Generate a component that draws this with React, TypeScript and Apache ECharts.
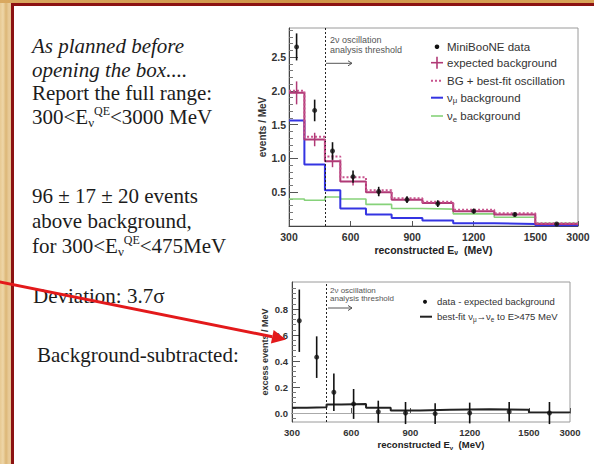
import React, { useEffect, useRef } from 'react';
import * as echarts from 'echarts';

// ---- data (MeV bins) ----
const binEdges = [300, 375, 475, 550, 675, 800, 950, 1100, 1300, 1500, 3000];
const binCenters = [337, 425, 512, 612, 737, 875, 1025, 1200, 1400, 2250];

const dataValues = [2.65, 1.71, 1.11, 0.73, 0.51, 0.39, 0.33, 0.22, 0.17, 0.03];
const dataErrors = [0.2, 0.16, 0.13, 0.09, 0.07, 0.05, 0.05, 0.035, 0.03, 0.015];
const expectedBg = [1.97, 1.28, 0.96, 0.66, 0.5, 0.39, 0.34, 0.22, 0.17, 0.03];
const expectedBgErr = [0.17, 0.1, 0.09, 0.06, 0.05, 0.04, 0.03, 0.03, 0.02, 0.01];
const bgPlusFit = [2.0, 1.32, 1.03, 0.72, 0.53, 0.41, 0.36, 0.24, 0.19, 0.04];
const numuBg = [1.56, 0.91, 0.53, 0.26, 0.17, 0.12, 0.08, 0.04, 0.03, 0.01];
const nueBg = [0.4, 0.38, 0.43, 0.4, 0.32, 0.26, 0.25, 0.18, 0.13, 0.04];

const excessValues = [0.71, 0.43, 0.16, 0.07, 0.01, 0.0, -0.005, 0.0, 0.01, 0.0];
const excessErrors = [0.24, 0.16, 0.145, 0.115, 0.085, 0.085, 0.08, 0.08, 0.075, 0.085];
const bestFit = [0.04, 0.045, 0.065, 0.07, 0.04, 0.02, 0.025, 0.03, 0.025, 0.005];

const xTickValues = [300, 600, 900, 1200, 1500, 3000];
const yTicksTop = [0.5, 1.0, 1.5, 2.0, 2.5];
const yTicksBottom = [0.0, 0.2, 0.4, 0.6, 0.8];
const threshold = 475;

// ---- styling ----
const SANS = '"Liberation Sans", Arial, Helvetica, sans-serif';
const SERIF = '"Liberation Serif", "Times New Roman", serif';
const K = 0.1387; // compression of the 1500-3000 MeV bin on the axis
const tx = (e: number) => (e <= 1500 ? e : 1500 + (e - 1500) * K);
const XMIN = 300;
const XMAX = tx(3000);

const fmtX = (v: number) => {
  const i = xTickValues.findIndex((e) => Math.abs(tx(e) - v) < 1e-6);
  return i >= 0 ? String(xTickValues[i]) : '';
};

function minorTicks(lo: number, hi: number, step: number, major: number) {
  const out: number[] = [];
  const n = Math.round((hi - lo) / step);
  for (let i = 0; i <= n; i++) {
    const v = +(lo + i * step).toFixed(4);
    if (Math.abs(v / major - Math.round(v / major)) > 1e-6) out.push(v);
  }
  return out;
}

const stepData = (vals: number[]) =>
  binEdges.map((e, i) => [tx(e), vals[Math.min(i, vals.length - 1)]]);

function errBar(color: string, width: number) {
  return (params: any, api: any) => {
    const x = api.value(0);
    const y = api.value(1);
    const e = api.value(2);
    const p1 = api.coord([x, y + e]);
    const p2 = api.coord([x, y - e]);
    return {
      type: 'line',
      shape: { x1: p1[0], y1: p1[1], x2: p2[0], y2: p2[1] },
      style: { stroke: color, lineWidth: width },
    };
  };
}

function buildOption(): any {
  const lblTop = { fontFamily: SANS, fontWeight: 'bold', fontSize: 10.5, color: '#333' };
  const lblBot = { fontFamily: SANS, fontWeight: 'bold', fontSize: 9.5, color: '#333' };
  const xName = 'reconstructed E{s|ν}  (MeV)';
  const xNameStyle = (fs: number) => ({
    fontFamily: SANS,
    fontWeight: 'bold',
    fontSize: fs,
    color: '#222',
    lineHeight: fs + 3,
    rich: {
      s: { fontFamily: SANS, fontWeight: 'bold', fontSize: fs * 0.65, lineHeight: 5, verticalAlign: 'bottom', color: '#222' },
    },
  });

  const makeX = (grid: number, lbl: any, nameGap: number, nfs: number) => ({
    type: 'value',
    gridIndex: grid,
    min: XMIN,
    max: XMAX,
    splitLine: { show: false },
    axisLine: { show: true, lineStyle: { color: '#444', width: 1 } },
    axisTick: { show: true, inside: true, length: 5, customValues: xTickValues.map(tx), lineStyle: { color: '#555' } },
    axisLabel: { customValues: xTickValues.map(tx), formatter: fmtX, margin: 5, ...lbl },
    name: xName,
    nameLocation: 'middle',
    nameGap,
    nameTextStyle: xNameStyle(nfs),
  });

  const minorTop = minorTicks(0, 2.9, 0.1, 0.5);
  const minorBot = minorTicks(-0.04, 1.0, 0.04, 0.2);

  const legendText = (text: string, x: number, y: number, fs: number, rich?: any) => ({
    type: 'text',
    x,
    y,
    z: 10,
    style: {
      text,
      fontFamily: SANS,
      fontSize: fs,
      fill: '#333',
      align: 'left',
      verticalAlign: 'middle',
      lineHeight: fs + 3,
      rich,
    },
  });
  const subRich = (fs: number) => ({
    s: { fontFamily: SANS, fontSize: fs * 0.68, lineHeight: 5, verticalAlign: 'bottom', fill: '#333' },
  });
  const hline = (x1: number, x2: number, y: number, color: string, w: number, dash?: number[]) => ({
    type: 'line',
    z: 10,
    shape: { x1, y1: y, x2, y2: y },
    style: { stroke: color, lineWidth: w, lineDash: dash },
  });

  const slide = (text: string, x: number, y: number, italic = false) => ({
    type: 'text',
    x,
    y,
    z: 20,
    style: {
      text,
      fontFamily: SERIF,
      fontSize: 21,
      fontStyle: italic ? 'italic' : 'normal',
      fill: '#1c1c1c',
      align: 'left',
      verticalAlign: 'middle',
      lineHeight: 24,
      rich: {
        sub: { fontFamily: SERIF, fontSize: 13, lineHeight: 8, verticalAlign: 'bottom', fill: '#1c1c1c' },
        sup: { fontFamily: SERIF, fontSize: 12, lineHeight: 12, verticalAlign: 'top', fill: '#1c1c1c' },
      },
    },
  });

  const thresholdNote = (x: number, y1: number, y2: number, ya: number, fs: number, ax1: number, ax2: number) => [
    { type: 'text', x, y: y1, z: 10, style: { text: '2ν oscillation', fontFamily: SANS, fontSize: fs, fill: '#555', verticalAlign: 'middle' } },
    { type: 'text', x, y: y2, z: 10, style: { text: 'analysis threshold', fontFamily: SANS, fontSize: fs, fill: '#555', verticalAlign: 'middle' } },
    hline(ax1, ax2, ya, '#555', 1),
    {
      type: 'polyline',
      z: 10,
      shape: { points: [[ax2 - 4, ya - 2.5], [ax2, ya], [ax2 - 4, ya + 2.5]] },
      style: { stroke: '#555', lineWidth: 1, fill: 'none' },
    },
  ];

  // red arrow geometry
  const ax0 = -2, ay0 = 281.6, axT = 286, ayT = 339.5;
  const dx = axT - ax0, dy = ayT - ay0;
  const L = Math.hypot(dx, dy);
  const ux = dx / L, uy = dy / L;
  const hl = 14, hw = 7;
  const bx = axT - hl * ux, by = ayT - hl * uy;

  return {
    animation: false,
    backgroundColor: 'transparent',
    grid: [
      { left: 289, top: 28, width: 289, height: 198, show: true, borderColor: '#9a9a9a', borderWidth: 1, backgroundColor: 'transparent' },
      { left: 292, top: 282, width: 278, height: 140, show: true, borderColor: '#9a9a9a', borderWidth: 1, backgroundColor: 'transparent' },
    ],
    xAxis: [makeX(0, lblTop, 16, 10.5), makeX(1, lblBot, 14, 9.5)],
    yAxis: [
      {
        type: 'value', gridIndex: 0, position: 'left', min: 0, max: 2.93,
        splitLine: { show: false },
        axisLine: { show: true, lineStyle: { color: '#444' } },
        axisTick: { show: true, inside: true, length: 9, customValues: yTicksTop, lineStyle: { color: '#555' } },
        axisLabel: { customValues: yTicksTop, formatter: (v: number) => v.toFixed(1), margin: 3, ...lblTop },
        name: 'events / MeV', nameLocation: 'middle', nameGap: 21,
        nameTextStyle: { fontFamily: SANS, fontWeight: 'bold', fontSize: 10, color: '#333' },
      },
      {
        type: 'value', gridIndex: 0, position: 'left', min: 0, max: 2.93,
        splitLine: { show: false }, axisLine: { show: false }, axisLabel: { show: false },
        axisTick: { show: true, inside: true, length: 4, customValues: minorTop, lineStyle: { color: '#777' } },
      },
      {
        type: 'value', gridIndex: 1, position: 'left', min: -0.069, max: 1.008,
        splitLine: { show: false },
        axisLine: { show: true, lineStyle: { color: '#444' } },
        axisTick: { show: true, inside: true, length: 8, customValues: yTicksBottom, lineStyle: { color: '#555' } },
        axisLabel: { customValues: yTicksBottom, formatter: (v: number) => v.toFixed(1), margin: 4, ...lblBot },
        name: 'excess events / MeV', nameLocation: 'middle', nameGap: 23,
        nameTextStyle: { fontFamily: SANS, fontWeight: 'bold', fontSize: 9, color: '#333' },
      },
      {
        type: 'value', gridIndex: 1, position: 'left', min: -0.069, max: 1.008,
        splitLine: { show: false }, axisLine: { show: false }, axisLabel: { show: false },
        axisTick: { show: true, inside: true, length: 4, customValues: minorBot, lineStyle: { color: '#777' } },
      },
    ],
    series: [
      {
        name: 'νe background', type: 'line', xAxisIndex: 0, yAxisIndex: 0, step: 'end', symbol: 'none',
        data: stepData(nueBg), lineStyle: { color: '#86d27a', width: 1.6 }, z: 2,
      },
      {
        name: 'νμ background', type: 'line', xAxisIndex: 0, yAxisIndex: 0, step: 'end', symbol: 'none',
        data: stepData(numuBg), lineStyle: { color: '#3434e2', width: 2 }, z: 3,
      },
      {
        name: 'expected background', type: 'line', xAxisIndex: 0, yAxisIndex: 0, step: 'end', symbol: 'none',
        data: stepData(expectedBg), lineStyle: { color: '#b03a76', width: 2 }, z: 4,
        markLine: {
          silent: true, symbol: ['none', 'none'], label: { show: false },
          lineStyle: { color: '#222', type: [2, 2], width: 1 },
          data: [{ xAxis: tx(threshold) }],
        },
      },
      {
        name: 'BG + best-fit oscillation', type: 'line', xAxisIndex: 0, yAxisIndex: 0, step: 'end', symbol: 'none',
        data: stepData(bgPlusFit), lineStyle: { color: '#c8548e', width: 2, type: [2, 2] }, z: 5,
      },
      {
        name: 'expected background errors', type: 'custom', xAxisIndex: 0, yAxisIndex: 0, z: 6,
        data: binCenters.map((c, i) => [tx(c), expectedBg[i], expectedBgErr[i]]),
        encode: { x: 0, y: 1 }, renderItem: errBar('#b03a76', 1.5),
      },
      {
        name: 'MiniBooNE data errors', type: 'custom', xAxisIndex: 0, yAxisIndex: 0, z: 7,
        data: binCenters.map((c, i) => [tx(c), dataValues[i], dataErrors[i]]),
        encode: { x: 0, y: 1 }, renderItem: errBar('#111', 1.6),
      },
      {
        name: 'MiniBooNE data', type: 'scatter', xAxisIndex: 0, yAxisIndex: 0, z: 8,
        symbol: 'circle', symbolSize: 5, itemStyle: { color: '#111' },
        data: binCenters.map((c, i) => [tx(c), dataValues[i]]),
      },
      // bottom panel
      {
        name: 'best-fit', type: 'line', xAxisIndex: 1, yAxisIndex: 2, step: 'end', symbol: 'none',
        data: stepData(bestFit), lineStyle: { color: '#222', width: 2 }, z: 4,
        markLine: {
          silent: true, symbol: ['none', 'none'], label: { show: false },
          data: [
            { yAxis: 0, lineStyle: { color: '#aaa', type: 'solid', width: 1 } },
            { xAxis: tx(threshold), lineStyle: { color: '#222', type: [2, 2], width: 1 } },
          ],
        },
      },
      {
        name: 'excess errors', type: 'custom', xAxisIndex: 1, yAxisIndex: 2, z: 6,
        data: binCenters.map((c, i) => [tx(c), excessValues[i], excessErrors[i]]),
        encode: { x: 0, y: 1 }, renderItem: errBar('#111', 1.6),
      },
      {
        name: 'data - expected background', type: 'scatter', xAxisIndex: 1, yAxisIndex: 2, z: 8,
        symbol: 'circle', symbolSize: 5, itemStyle: { color: '#111' },
        data: binCenters.map((c, i) => [tx(c), excessValues[i]]),
      },
    ],
    graphic: [
      // slide text
      slide('As planned before', 32, 46, true),
      slide('opening the box....', 32, 70, true),
      slide('Report the full range:', 32, 93),
      slide('300<E{sub|ν}{sup|QE}<3000 MeV', 32, 117),
      slide('96 ± 17 ± 20 events', 32, 196),
      slide('above background,', 32, 221),
      slide('for 300<E{sub|ν}{sup|QE}<475MeV', 32, 246),
      slide('Deviation: 3.7σ', 33, 296),
      slide('Background-subtracted:', 37, 355),
      // top legend
      { type: 'circle', z: 10, shape: { cx: 437, cy: 46.7, r: 2.3 }, style: { fill: '#111' } },
      legendText('MiniBooNE data', 447, 46.7, 11.5),
      hline(431, 443, 62.7, '#b03a76', 1.6),
      { type: 'line', z: 10, shape: { x1: 437, y1: 56.7, x2: 437, y2: 68.7 }, style: { stroke: '#b03a76', lineWidth: 1.6 } },
      legendText('expected background', 447, 62.7, 11.5),
      hline(431, 443, 80.7, '#c8548e', 2, [2, 2]),
      legendText('BG + best-fit oscillation', 447, 80.7, 11.5),
      hline(431, 443, 97.7, '#3434e2', 2),
      legendText('ν{s|μ} background', 447, 97.7, 11.5, subRich(11.5)),
      hline(431, 443, 116, '#86d27a', 1.6),
      legendText('ν{s|e} background', 447, 116, 11.5, subRich(11.5)),
      // bottom legend
      { type: 'circle', z: 10, shape: { cx: 425, cy: 301.7, r: 2 }, style: { fill: '#111' } },
      legendText('data - expected background', 437, 301.7, 9.5),
      hline(420, 432, 316.7, '#222', 2),
      legendText('best-fit ν{s|μ}→ν{s|e} to E>475 MeV', 437, 316.7, 9.5, subRich(9.5)),
      // threshold notes
      ...thresholdNote(330, 40, 49.5, 63.3, 9, 326, 352),
      ...thresholdNote(330, 290.5, 298.5, 308, 8, 328, 352),
      // red arrow
      {
        type: 'line', z: 100,
        shape: { x1: ax0, y1: ay0, x2: bx, y2: by },
        style: { stroke: '#e3191b', lineWidth: 3 },
      },
      {
        type: 'polygon', z: 100,
        shape: { points: [[axT, ayT], [bx - hw * uy, by + hw * ux], [bx + hw * uy, by - hw * ux]] },
        style: { fill: '#e3191b' },
      },
    ],
  };
}

export default function App() {
  const ref = useRef<HTMLDivElement>(null);
  useEffect(() => {
    if (!ref.current) return;
    const chart = echarts.init(ref.current, null, { renderer: 'svg', width: 594, height: 464 });
    chart.setOption(buildOption());
    return () => chart.dispose();
  }, []);
  return (
    <div
      style={{
        position: 'fixed', left: 0, top: 0, width: 594, height: 464, overflow: 'hidden',
        background: 'repeating-linear-gradient(90deg, #e7c992 0px, #eed6a8 3px, #dcb676 6px, #e9cc9a 9px, #e2c089 12px)',
      }}
    >
      <div style={{ position: 'absolute', left: 0, top: 0, width: 594, height: 3, background: 'linear-gradient(90deg, #d9a860, #cf9446 50%, #d8a458)' }} />
      <div
        style={{
          position: 'absolute', left: 11, top: 3, width: 610, height: 480, boxSizing: 'border-box',
          border: '3px solid #8c1212', background: '#ffffff',
        }}
      />
      <div ref={ref} style={{ position: 'absolute', left: 0, top: 0, width: 594, height: 464 }} />
    </div>
  );
}
